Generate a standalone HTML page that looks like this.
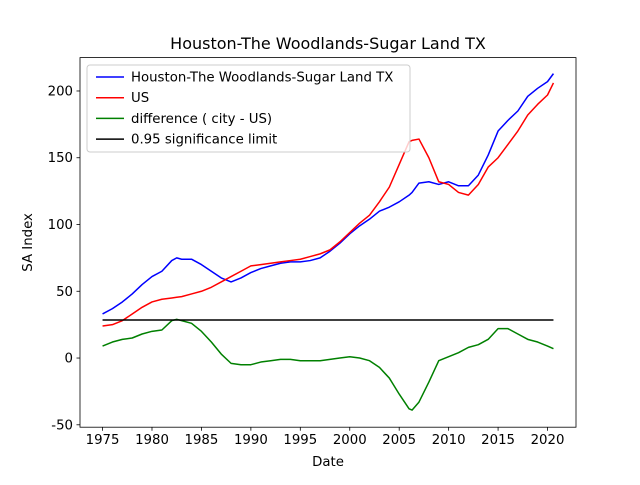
<!DOCTYPE html>
<html><head><meta charset="utf-8"><style>
body{margin:0;background:#fff}
svg{font-family:"DejaVu Sans","Liberation Sans",sans-serif}
</style></head><body>
<svg id="chart" width="640" height="480" xmlns="http://www.w3.org/2000/svg"></svg>
<script>
const years=[1975,1976,1977,1978,1979,1980,1981,1982,1982.5,1983,1984,1985,1986,1987,1988,1989,1990,1991,1992,1993,1994,1995,1996,1997,1998,1999,2000,2001,2002,2003,2004,2005,2006,2006.3,2007,2008,2009,2010,2011,2012,2013,2014,2015,2016,2017,2018,2019,2020,2020.6];
const cityVals=[33,37,42,48,55,61,65,73,75,74,74,70,65,60,57,60,64,67,69,71,72,72,73,75,80,86,93,99,104,110,113,117,122,124,131,132,130,132,129,129,137,152,170,178,185,196,202,207,213];
const usVals=[24,25,28,33,38,42,44,45,45.5,46,48,50,53,57,61,65,69,70,71,72,73,74,76,78,81,87,94,101,107,117,128,145,162,163,164,150,132,130,124,122,130,143,150,160,170,182,190,197,206];
const diffVals=[9,12,14,15,18,20,21,28,29,28,26,20,12,3,-4,-5,-5,-3,-2,-1,-1,-2,-2,-2,-1,0,1,0,-2,-7,-15,-27,-38,-39,-33,-18,-2,1,4,8,10,14,22,22,18,14,12,9,7];
const sigLimit=28.5;
const xTicks=[1975,1980,1985,1990,1995,2000,2005,2010,2015,2020];
const yTicks=[-50,0,50,100,150,200];
const legendLabels=["Houston-The Woodlands-Sugar Land TX","US","difference ( city - US)","0.95 significance limit"];

const L=80,R=576,T=57.6,B=427.2;
const xmin=1972.72,xmax=2022.88,ymin=-51.8,ymax=225;
const sx=v=>L+(v-xmin)/(xmax-xmin)*(R-L);
const sy=v=>B-(v-ymin)/(ymax-ymin)*(B-T);
const svg=document.getElementById('chart');
const NS="http://www.w3.org/2000/svg";
function mk(tag,attrs,parent){const e=document.createElementNS(NS,tag);for(const k in attrs)e.setAttribute(k,attrs[k]);(parent||svg).appendChild(e);return e;}

function series(vals,color,name){
  const d=vals.map((v,i)=>(i?'L':'M')+sx(years[i]).toFixed(2)+','+sy(v).toFixed(2)).join(' ');
  const p=mk('path',{d:d,fill:'none',stroke:color,'stroke-width':1.5,'stroke-linejoin':'round'});
  
  
}
series(cityVals,'#0000ff','houston-line');
series(usVals,'#ff0000','us-line');
series(diffVals,'#008000','difference-line');
const sl=mk('line',{x1:sx(years[0]),x2:sx(years[years.length-1]),y1:sy(sigLimit),y2:sy(sigLimit),stroke:'#000','stroke-width':1.5});



const frame=mk('rect',{x:L,y:T,width:R-L,height:B-T,fill:'none',stroke:'#000','stroke-width':0.8});



xTicks.forEach(t=>{
  const x=sx(t);
  mk('line',{x1:x,x2:x,y1:B,y2:B+3.5,stroke:'#000','stroke-width':0.8});
  const tx=mk('text',{x:x,y:B+17,'font-size':13.3,'text-anchor':'middle'});tx.textContent=t;
  
  
});
yTicks.forEach(t=>{
  const y=sy(t);
  mk('line',{x1:L,x2:L-3.5,y1:y,y2:y,stroke:'#000','stroke-width':0.8});
  const tx=mk('text',{x:L-7,y:y+4.5,'font-size':13.3,'text-anchor':'end'});tx.textContent=t;
  
  
});
const title=mk('text',{x:(L+R)/2,y:49,'font-size':16,'text-anchor':'middle'});title.textContent="Houston-The Woodlands-Sugar Land TX";


const xl=mk('text',{x:(L+R)/2,y:466,'font-size':13.3,'text-anchor':'middle'});xl.textContent="Date";


const yl=mk('text',{x:32,y:(T+B)/2,'font-size':13.3,'text-anchor':'middle',transform:'rotate(-90 32 '+(T+B)/2+')'});yl.textContent="SA Index";



const lg=mk('g',{});


mk('rect',{x:87,y:65,width:323,height:87,rx:3,fill:'#fff','fill-opacity':0.8,stroke:'#ccc','stroke-width':1},lg);
const colors=['#0000ff','#ff0000','#008000','#000'];
legendLabels.forEach((lab,i)=>{
  const y=77+i*20.7;
  mk('line',{x1:96,x2:124,y1:y,y2:y,stroke:colors[i],'stroke-width':1.5},lg);
  const t=mk('text',{x:131,y:y+4.5,'font-size':13.3},lg);t.textContent=lab;
  
  
});
</script>
</body></html>
